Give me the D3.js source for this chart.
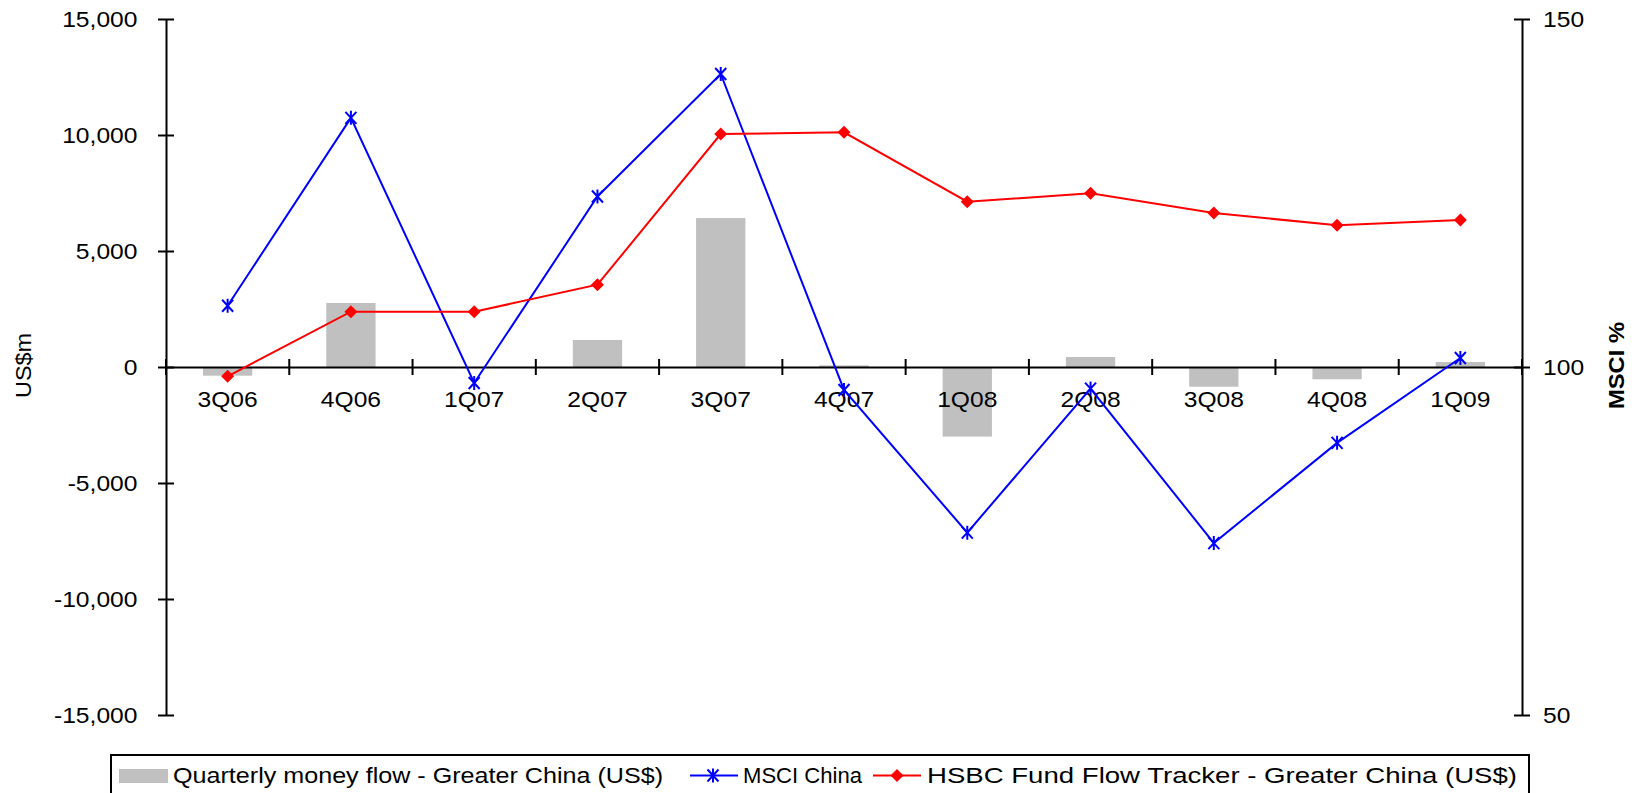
<!DOCTYPE html>
<html>
<head>
<meta charset="utf-8">
<script src="https://cdn.jsdelivr.net/npm/d3@7"></script>
<style>
  html, body { margin: 0; padding: 0; background: #fff; overflow: hidden; }
  svg { display: block; font-family: "Liberation Sans", Arial, sans-serif; }
</style>
</head>
<body>
<svg id="chart" width="1636" height="793"></svg>
<script>
// Quarters on the category axis
const quarters = ["3Q06", "4Q06", "1Q07", "2Q07", "3Q07", "4Q07", "1Q08", "2Q08", "3Q08", "4Q08", "1Q09"];
// Quarterly money flow - Greater China, US$m (left axis)
const moneyFlow = [-375, 2760, 0, 1165, 6420, 70, -3000, 430, -850, -530, 215];
// HSBC Fund Flow Tracker - Greater China, US$m (left axis)
const fundTracker = [-400, 2384, 2384, 3547, 10043, 10116, 7125, 7486, 6638, 6106, 6336];
// MSCI China, % (right axis)
const msciChina = [108.8, 135.8, 97.7, 124.5, 142.1, 96.7, 76.2, 96.9, 74.7, 89.1, 101.3];
// Axis ticks
const leftTicks = [-15000, -10000, -5000, 0, 5000, 10000, 15000];
const rightTicks = [50, 100, 150];

const svg = d3.select("#chart");
const plotLeft = 166, plotRight = 1522, plotTop = 19, plotBottom = 715;
const stretch = 1.12;

const x = d3.scaleBand().domain(quarters).range([plotLeft, plotRight]).paddingInner(0.6).paddingOuter(0.3);
const step = x.step();
const cx = q => x(q) + x.bandwidth() / 2;
const yL = d3.scaleLinear().domain([-15000, 15000]).range([plotBottom, plotTop]);
const yR = d3.scaleLinear().domain([50, 150]).range([plotBottom, plotTop]);
const y0 = yL(0);

const fmt = d3.formatLocale({decimal: ".", thousands: ",", grouping: [3], currency: ["$", ""], minus: "-"}).format(",");

// Bars
svg.append("g").selectAll("rect").data(quarters).join("rect")
  .attr("x", q => x(q))
  .attr("width", x.bandwidth())
  .attr("y", (q, i) => Math.min(yL(moneyFlow[i]), y0))
  .attr("height", (q, i) => Math.abs(yL(moneyFlow[i]) - y0))
  .attr("fill", "#c0c0c0");

// Left axis
const gL = svg.append("g").attr("transform", `translate(${plotLeft},0)`)
  .call(d3.axisLeft(yL).tickValues(leftTicks).tickFormat(fmt).tickSizeInner(8).tickSizeOuter(0));
gL.selectAll(".tick line").attr("x1", 8).attr("stroke-width", 2);
gL.select(".domain").attr("stroke-width", 2);
gL.selectAll(".tick text")
  .attr("font-size", 22).attr("fill", "#000")
  .attr("x", -28.5 / stretch).attr("dy", "0.36em")
  .attr("transform", `scale(${stretch},1)`);

// Right axis
const gR = svg.append("g").attr("transform", `translate(${plotRight},0)`)
  .call(d3.axisRight(yR).tickValues(rightTicks).tickSizeInner(8).tickSizeOuter(0));
gR.selectAll(".tick line").attr("x1", -8).attr("stroke-width", 2);
gR.select(".domain").attr("stroke-width", 2);
gR.selectAll(".tick text")
  .attr("font-size", 22).attr("fill", "#000")
  .attr("x", 21 / stretch).attr("dy", "0.36em")
  .attr("transform", `scale(${stretch},1)`);

// Category axis along zero
const gX = svg.append("g").attr("transform", `translate(0,${y0})`)
  .call(d3.axisBottom(x).tickSizeInner(0).tickSizeOuter(0).tickPadding(0));
gX.select(".domain").attr("stroke-width", 2);
gX.selectAll(".tick").attr("transform", q => `translate(${cx(q)},0)`);
gX.selectAll(".tick text")
  .attr("font-size", 22).attr("fill", "#000")
  .attr("y", 40).attr("dy", null)
  .attr("transform", `scale(${stretch},1)`);
// Boundary ticks between quarters
const bounds = quarters.map(q => cx(q) - step / 2).concat([cx(quarters[quarters.length - 1]) + step / 2]);
gX.append("g").selectAll("line").data(bounds).join("line")
  .attr("x1", d => d).attr("x2", d => d)
  .attr("y1", -8).attr("y2", 8)
  .attr("stroke", "#000").attr("stroke-width", 2);

// Axis titles
svg.append("text")
  .attr("transform", "translate(31,365.5) rotate(-90)")
  .attr("text-anchor", "middle").attr("font-size", 22)
  .attr("textLength", 65).attr("lengthAdjust", "spacingAndGlyphs")
  .text("US$m");
svg.append("text")
  .attr("transform", "translate(1624,365.5) rotate(-90)")
  .attr("text-anchor", "middle").attr("font-size", 22).attr("font-weight", "bold")
  .attr("textLength", 87).attr("lengthAdjust", "spacingAndGlyphs")
  .text("MSCI %");

// Marker shapes
function asterisk(g, px, py) {
  g.append("path")
    .attr("d", `M${px - 5.5},${py - 6}L${px + 5.5},${py + 6}M${px - 5.5},${py + 6}L${px + 5.5},${py - 6}M${px},${py - 7}L${px},${py + 7}`)
    .attr("stroke", "#0000ff").attr("stroke-width", 2).attr("fill", "none");
}
function diamond(g, px, py) {
  g.append("path")
    .attr("d", `M${px},${py - 6.5}L${px + 6.5},${py}L${px},${py + 6.5}L${px - 6.5},${py}Z`)
    .attr("fill", "#ff0000");
}

// MSCI China line
const gBlue = svg.append("g");
gBlue.append("path")
  .datum(quarters)
  .attr("d", d3.line().x(q => cx(q)).y((q, i) => yR(msciChina[i])))
  .attr("fill", "none").attr("stroke", "#0000ff").attr("stroke-width", 2);
quarters.forEach((q, i) => asterisk(gBlue, cx(q), yR(msciChina[i])));

// HSBC Fund Flow Tracker line
const gRed = svg.append("g");
gRed.append("path")
  .datum(quarters)
  .attr("d", d3.line().x(q => cx(q)).y((q, i) => yL(fundTracker[i])))
  .attr("fill", "none").attr("stroke", "#ff0000").attr("stroke-width", 2);
quarters.forEach((q, i) => diamond(gRed, cx(q), yL(fundTracker[i])));

// Legend
const lg = svg.append("g");
lg.append("rect").attr("x", 111).attr("y", 755).attr("width", 1418).attr("height", 60)
  .attr("fill", "#fff").attr("stroke", "#000").attr("stroke-width", 2);
lg.append("rect").attr("x", 119).attr("y", 769).attr("width", 49).attr("height", 14).attr("fill", "#c0c0c0");
lg.append("text").attr("x", 173).attr("y", 783).attr("font-size", 22)
  .attr("textLength", 490).attr("lengthAdjust", "spacingAndGlyphs")
  .text("Quarterly money flow - Greater China (US$)");
lg.append("line").attr("x1", 690).attr("x2", 738).attr("y1", 775.5).attr("y2", 775.5)
  .attr("stroke", "#0000ff").attr("stroke-width", 2);
asterisk(lg, 713, 775.5);
lg.append("text").attr("x", 743).attr("y", 783).attr("font-size", 22)
  .attr("textLength", 119).attr("lengthAdjust", "spacingAndGlyphs")
  .text("MSCI China");
lg.append("line").attr("x1", 873).attr("x2", 921).attr("y1", 775.5).attr("y2", 775.5)
  .attr("stroke", "#ff0000").attr("stroke-width", 2);
diamond(lg, 897, 775.5);
lg.append("text").attr("x", 927).attr("y", 783).attr("font-size", 22)
  .attr("textLength", 590).attr("lengthAdjust", "spacingAndGlyphs")
  .text("HSBC Fund Flow Tracker - Greater China (US$)");
</script>
</body>
</html>
